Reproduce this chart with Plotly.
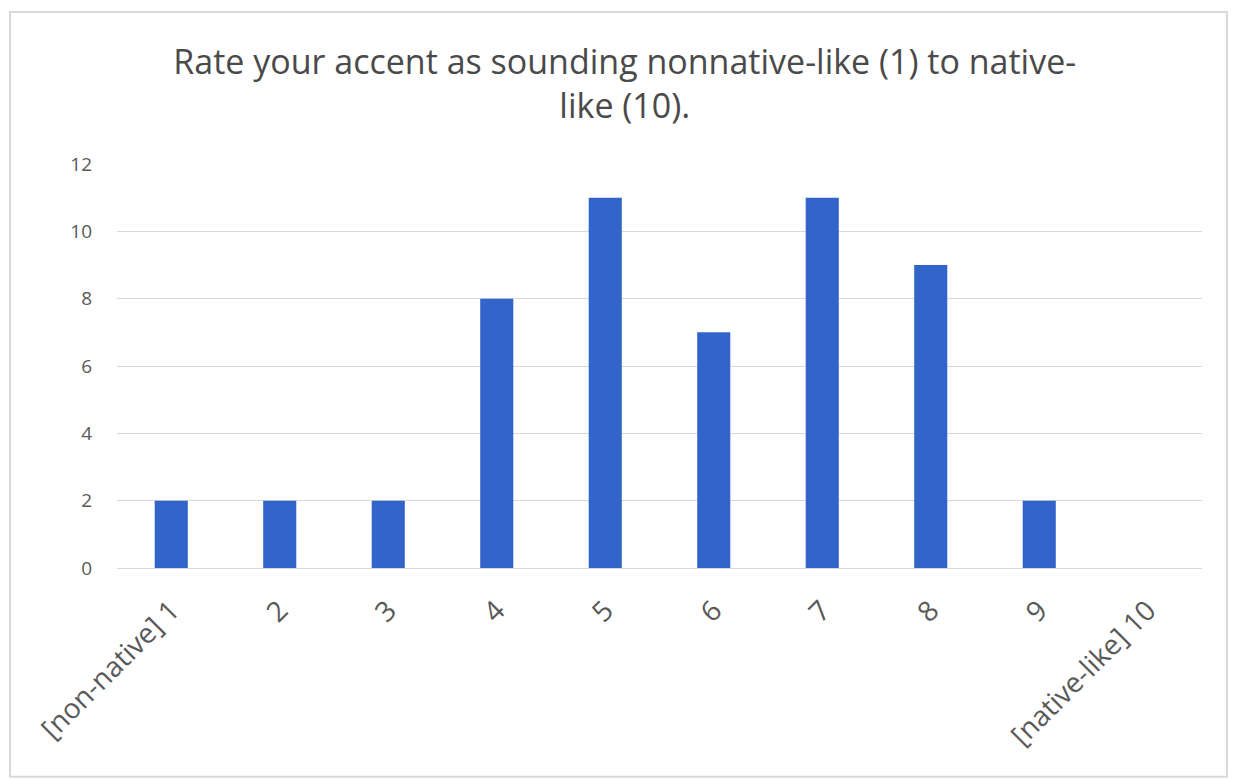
import plotly.graph_objects as go

categories = ["[non-native] 1", "2", "3", "4", "5", "6", "7", "8", "9", "[native-like] 10"]
counts = [2, 2, 2, 8, 11, 7, 11, 9, 2, 0]
y_ticks = [0, 2, 4, 6, 8, 10, 12]
title_text = "Rate your accent as sounding nonnative-like (1) to native-<br>like (10)."

fig = go.Figure(go.Bar(x=categories, y=counts, marker=dict(color="#3264c9", line=dict(width=0))))

fig.update_layout(
    width=1235, height=779,
    paper_bgcolor="white", plot_bgcolor="white",
    margin=dict(l=117, r=33, t=164, b=211),
    bargap=0.695,
    showlegend=False,
    title=dict(text=title_text, xref="paper", x=0.468, xanchor="center",
               yref="container", y=0.905, yanchor="top",
               font=dict(family="Open Sans, sans-serif", size=34, color="#4a4a4a")),
    font=dict(family="Open Sans, sans-serif", color="#595959"),
    shapes=[dict(type="rect", xref="paper", yref="paper", x0=-0.0986, x1=1.023, y0=-0.517, y1=1.376,
                 line=dict(color="#d9d9d9", width=2), fillcolor="rgba(0,0,0,0)", layer="below")],
)
fig.update_xaxes(tickangle=-45, tickfont=dict(size=28, color="#595959"), showline=True,
                 linecolor="#d9d9d9", linewidth=1, ticks="", showgrid=False,
                 ticklabelstandoff=14)
fig.update_yaxes(range=[0, 12], tickvals=y_ticks, tickfont=dict(size=19, color="#595959"),
                 showgrid=True, gridcolor="#d9d9d9", gridwidth=1, zeroline=False, ticks="",
                 ticklabelstandoff=24)

fig.write_html("out.html", config={"displayModeBar": False},
               post_script="document.body.style.margin='0';")
